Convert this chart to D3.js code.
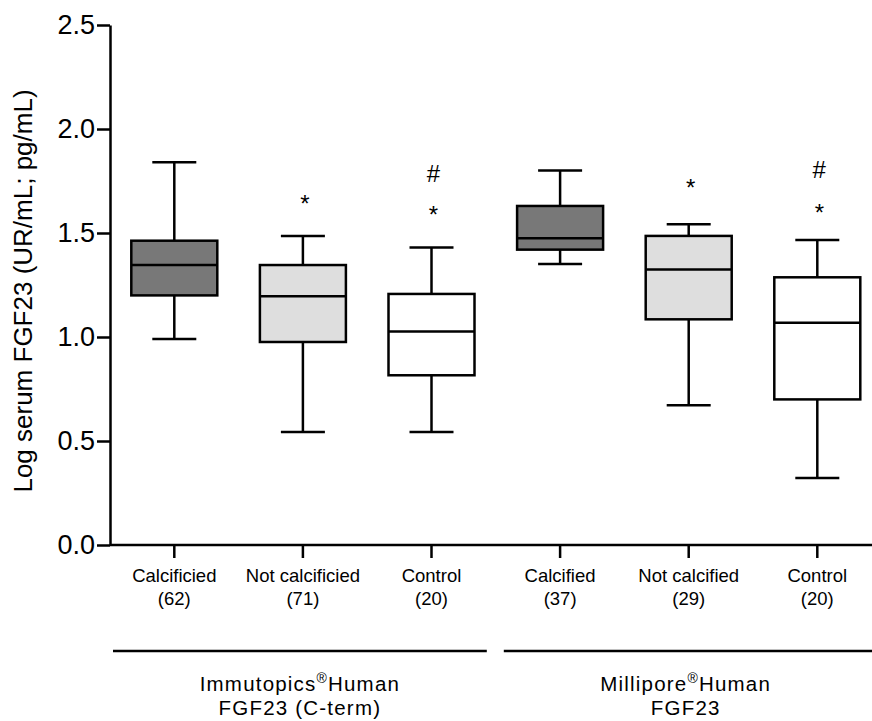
<!DOCTYPE html>
<html>
<head>
<meta charset="utf-8">
<script src="https://cdn.jsdelivr.net/npm/d3@7"></script>
<style>
  body { margin: 0; background: #fff; }
  text { font-family: "Liberation Sans", Arial, sans-serif; fill: #000; }
</style>
</head>
<body>
<script>
var w = 872;
var h = 721;

// data
var categories = ["Calcificied", "Not calcificied", "Control", "Calcified", "Not calcified", "Control"];
var counts = ["(62)", "(71)", "(20)", "(37)", "(29)", "(20)"];
var whiskerLow = [0.99, 0.543, 0.543, 1.351, 0.672, 0.322];
var q1 = [1.20, 0.976, 0.816, 1.42, 1.085, 0.70];
var median = [1.346, 1.196, 1.026, 1.475, 1.325, 1.069];
var q3 = [1.463, 1.346, 1.207, 1.63, 1.486, 1.287];
var whiskerHigh = [1.84, 1.486, 1.43, 1.80, 1.542, 1.466];
var fills = ["#787878", "#dedede", "#ffffff", "#787878", "#dedede", "#ffffff"];
var starY = [null, 1.66, 1.605, null, 1.735, 1.617];
var hashY = [null, null, 1.79, null, null, 1.81];
var groups = ["Immutopics", "Millipore"];
var groupSub = ["FGF23 (C-term)", "FGF23"];
var yTicks = [0, 0.5, 1.0, 1.5, 2.0, 2.5];

var svg = d3.select("body")
    .append("svg")
    .attr("width", w)
    .attr("height", h);

var idx = d3.range(categories.length);

var x = d3.scaleBand()
    .domain(idx)
    .range([110, 881.6])
    .padding(0);

var y = d3.scaleLinear()
    .domain([0, 2.5])
    .range([545, 25]);

var bw = 86;
var cap = 44;
function cx(i) { return x(i) + x.bandwidth() / 2; }

// y axis
var yAxis = svg.append("g")
    .attr("transform", "translate(110,0)")
    .call(d3.axisLeft(y).tickValues(yTicks).tickFormat(d3.format(".1f")).tickSize(13).tickSizeOuter(0).tickPadding(2));
yAxis.select(".domain").attr("stroke-width", 2.5);
yAxis.selectAll(".tick line").attr("stroke-width", 2.5);
yAxis.selectAll(".tick text").attr("font-size", 27).attr("font-family", "Liberation Sans, Arial, sans-serif");

svg.append("text")
    .attr("transform", "translate(32,291) rotate(-90)")
    .attr("text-anchor", "middle")
    .attr("font-size", 26)
    .text("Log serum FGF23 (UR/mL; pg/mL)");

// x axis
svg.append("line")
    .attr("x1", 110).attr("x2", w)
    .attr("y1", y(0)).attr("y2", y(0))
    .attr("stroke", "#000").attr("stroke-width", 2.5);

var cat = svg.selectAll(".cat")
    .data(idx)
    .enter().append("g")
    .attr("class", "cat");

cat.append("line")
    .attr("x1", cx).attr("x2", cx)
    .attr("y1", y(0)).attr("y2", y(0) + 13)
    .attr("stroke", "#000").attr("stroke-width", 2.5);

cat.append("text")
    .attr("x", cx)
    .attr("y", 582)
    .attr("text-anchor", "middle")
    .attr("font-size", 18.5)
    .text(function(i) { return categories[i]; });

cat.append("text")
    .attr("x", cx)
    .attr("y", 605)
    .attr("text-anchor", "middle")
    .attr("font-size", 18.5)
    .text(function(i) { return counts[i]; });

// boxes
cat.append("line")
    .attr("x1", cx).attr("x2", cx)
    .attr("y1", function(i) { return y(whiskerLow[i]); })
    .attr("y2", function(i) { return y(whiskerHigh[i]); })
    .attr("stroke", "#000").attr("stroke-width", 2.5);

cat.append("line")
    .attr("x1", function(i) { return cx(i) - cap / 2; })
    .attr("x2", function(i) { return cx(i) + cap / 2; })
    .attr("y1", function(i) { return y(whiskerLow[i]); })
    .attr("y2", function(i) { return y(whiskerLow[i]); })
    .attr("stroke", "#000").attr("stroke-width", 2.5);

cat.append("line")
    .attr("x1", function(i) { return cx(i) - cap / 2; })
    .attr("x2", function(i) { return cx(i) + cap / 2; })
    .attr("y1", function(i) { return y(whiskerHigh[i]); })
    .attr("y2", function(i) { return y(whiskerHigh[i]); })
    .attr("stroke", "#000").attr("stroke-width", 2.5);

cat.append("rect")
    .attr("x", function(i) { return cx(i) - bw / 2; })
    .attr("width", bw)
    .attr("y", function(i) { return y(q3[i]); })
    .attr("height", function(i) { return y(q1[i]) - y(q3[i]); })
    .attr("fill", function(i) { return fills[i]; })
    .attr("stroke", "#000").attr("stroke-width", 2.5);

cat.append("line")
    .attr("x1", function(i) { return cx(i) - bw / 2; })
    .attr("x2", function(i) { return cx(i) + bw / 2; })
    .attr("y1", function(i) { return y(median[i]); })
    .attr("y2", function(i) { return y(median[i]); })
    .attr("stroke", "#000").attr("stroke-width", 2.5);

// significance marks
cat.filter(function(i) { return starY[i] != null; })
    .append("text")
    .attr("x", function(i) { return cx(i) + 2; })
    .attr("y", function(i) { return y(starY[i]) + 12; })
    .attr("text-anchor", "middle")
    .attr("font-size", 24)
    .text("*");

cat.filter(function(i) { return hashY[i] != null; })
    .append("text")
    .attr("x", function(i) { return cx(i) + 2; })
    .attr("y", function(i) { return y(hashY[i]) + 9; })
    .attr("text-anchor", "middle")
    .attr("font-size", 24)
    .text("#");

// group brackets
var gx = [[0, 2], [3, 5]];
gx.forEach(function(g, k) {
    svg.append("line")
        .attr("x1", x(g[0]) + (k == 0 ? 3 : 8))
        .attr("x2", x(g[1]) + x.bandwidth() - (k == 0 ? 9 : 0))
        .attr("y1", 651).attr("y2", 651)
        .attr("stroke", "#000").attr("stroke-width", 2.5);

    var mid = cx(g[0] + 1) - 3;
    var t = svg.append("text")
        .attr("x", mid)
        .attr("y", 690.5)
        .attr("text-anchor", "middle")
        .attr("font-size", 20.5)
        .attr("letter-spacing", 1.2);
    t.append("tspan").text(groups[k]);
    t.append("tspan").attr("font-size", 14).attr("dy", -8).text("\u00AE");
    t.append("tspan").attr("dy", 8).text("Human");

    svg.append("text")
        .attr("x", mid)
        .attr("y", 715)
        .attr("text-anchor", "middle")
        .attr("font-size", 20.5)
        .attr("letter-spacing", 1.2)
        .text(groupSub[k]);
});
</script>
</body>
</html>
